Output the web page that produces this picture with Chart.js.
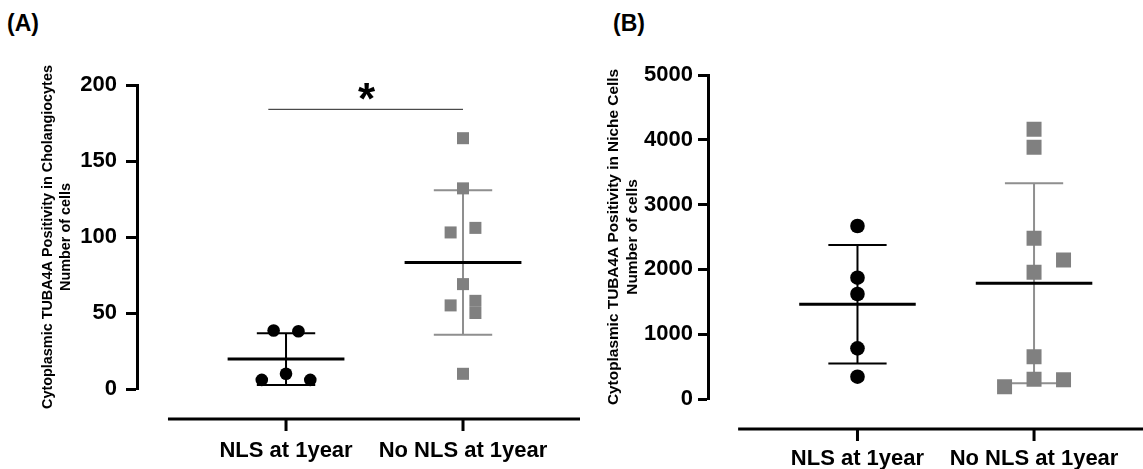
<!DOCTYPE html>
<html>
<head>
<meta charset="utf-8">
<script src="https://cdn.jsdelivr.net/npm/chart.js@4.4.1/dist/chart.umd.min.js"></script>
<style>
  body { margin: 0; background: #fff; }
  #wrap { position: relative; width: 1143px; height: 469px; overflow: hidden; }
  canvas { position: absolute; top: 0; }
  .panel { position: absolute; font: bold 23px 'Liberation Sans', Arial, sans-serif; color: #000; line-height: 1; }
</style>
</head>
<body>
<div id="wrap">
  <div class="panel" style="left:7px; top:12px;">(A)</div>
  <div class="panel" style="left:613px; top:12px;">(B)</div>
  <canvas id="chartA" width="590" height="469" style="left:0"></canvas>
  <canvas id="chartB" width="565" height="469" style="left:590px"></canvas>
</div>
<script>
var categories = ['NLS at 1year', 'No NLS at 1year'];

// panel A - cholangiocytes
var aNls = [38.5, 38, 10, 6, 6];
var aNoNls = [165, 132, 103, 106, 69, 55, 58, 50, 10];
var aMean = [19.7, 83.2];
var aSd = [17, 47.5];
var aTicks = [0, 50, 100, 150, 200];
var aTitle = ['Cytoplasmic TUBA4A Positivity in Cholangiocytes', 'Number of cells'];

// panel B - niche cells
var bNls = [2670, 1872, 1620, 782, 344];
var bNoNls = [4161, 3884, 2480, 2145, 1955, 653, 304, 298, 190];
var bMean = [1461, 1785];
var bSd = [915, 1543];
var bTicks = [0, 1000, 2000, 3000, 4000, 5000];
var bTitle = ['Cytoplasmic TUBA4A Positivity in Niche Cells', 'Number of cells'];

// horizontal scatter of points around the category (category units)
var aNlsDx = [-0.07, 0.07, 0, -0.137, 0.137];
var aNoNlsDx = [0, 0, -0.07, 0.07, 0, -0.07, 0.07, 0.07, 0];
var bNlsDx = [0, 0, 0, 0, 0];
var bNoNlsDx = [0, 0, 0, 0.167, 0, 0, 0, 0.167, -0.167];

var FONT = "'Liberation Sans', Arial, sans-serif";

function errorBar(cx, m, s, cap) {
    return [
        { x: cx - cap, y: m + s }, { x: cx + cap, y: m + s }, { x: cx, y: null },
        { x: cx, y: m + s }, { x: cx, y: m - s }, { x: cx, y: null },
        { x: cx - cap, y: m - s }, { x: cx + cap, y: m - s }
    ];
}

function buildSets(nls, nlsDx, noNls, noNlsDx, mean, sd, circleR, squareR) {
    return [
        {
            data: nls.map(function (v, i) { return { x: 1 + nlsDx[i], y: v }; }),
            pointStyle: 'circle', pointRadius: circleR, backgroundColor: '#000', borderWidth: 0
        },
        {
            data: noNls.map(function (v, i) { return { x: 2 + noNlsDx[i], y: v }; }),
            pointStyle: 'rect', pointRadius: squareR, backgroundColor: '#808080', borderWidth: 0
        },
        {
            data: [{ x: 0.67, y: mean[0] }, { x: 1.33, y: mean[0] }, { x: 1.5, y: null },
                   { x: 1.67, y: mean[1] }, { x: 2.33, y: mean[1] }],
            showLine: true, borderColor: '#000', borderWidth: 3, pointRadius: 0
        },
        {
            data: errorBar(1, mean[0], sd[0], 0.165),
            showLine: true, borderColor: '#000', borderWidth: 2, pointRadius: 0
        },
        {
            data: errorBar(2, mean[1], sd[1], 0.165),
            showLine: true, borderColor: '#8f8f8f', borderWidth: 2, pointRadius: 0
        }
    ];
}

// x axis drawn detached below the plot, like the original
var offsetAxis = {
    id: 'offsetAxis',
    afterDraw: function (chart, args, opts) {
        var ctx = chart.ctx, x = chart.scales.x, y = chart.scales.y;
        var ay = chart.chartArea.bottom + opts.gap;
        ctx.save();
        ctx.strokeStyle = '#000';
        ctx.lineWidth = 3;
        ctx.beginPath();
        ctx.moveTo(x.getPixelForValue(opts.start), ay);
        ctx.lineTo(chart.chartArea.right, ay);
        x.ticks.forEach(function (t) {
            var px = x.getPixelForValue(t.value);
            ctx.moveTo(px, ay);
            ctx.lineTo(px, ay + opts.tickLen);
        });
        ctx.stroke();
        if (opts.star) {
            ctx.lineWidth = 1;
            ctx.strokeStyle = '#222';
            ctx.beginPath();
            ctx.moveTo(x.getPixelForValue(opts.star.from), y.getPixelForValue(opts.star.y));
            ctx.lineTo(x.getPixelForValue(opts.star.to), y.getPixelForValue(opts.star.y));
            ctx.stroke();
            ctx.fillStyle = '#000';
            ctx.font = 'bold 44px ' + FONT;
            ctx.textAlign = 'center';
            ctx.textBaseline = 'alphabetic';
            ctx.fillText('*', x.getPixelForValue(opts.star.x), y.getPixelForValue(opts.star.textY));
        }
        ctx.restore();
    }
};

function makeChart(id, cfg) {
    return new Chart(document.getElementById(id), {
        type: 'scatter',
        data: { datasets: cfg.datasets },
        plugins: [offsetAxis],
        options: {
            responsive: false,
            animation: false,
            layout: { padding: { top: cfg.top, right: cfg.right, left: 0, bottom: 0 } },
            plugins: {
                legend: { display: false },
                tooltip: { enabled: false },
                offsetAxis: { gap: 30, start: cfg.axisStart, tickLen: 12, star: cfg.star }
            },
            scales: {
                x: {
                    type: 'linear', min: cfg.xMin, max: cfg.xMax,
                    afterBuildTicks: function (s) { s.ticks = [1, 2].map(function (v) { return { value: v }; }); },
                    afterFit: function (s) {
                        s.height = cfg.xHeight;
                        s.paddingLeft = 0;
                        s.paddingRight = 0;
                    },
                    ticks: {
                        callback: function (v) { return categories[Math.round(v) - 1]; },
                        color: '#000', font: { family: FONT, size: 22, weight: 'bold' },
                        padding: cfg.xPad, autoSkip: false, maxRotation: 0
                    },
                    grid: { display: false },
                    border: { display: false }
                },
                y: {
                    min: cfg.ticks[0], max: cfg.ticks[cfg.ticks.length - 1],
                    afterBuildTicks: function (s) { s.ticks = cfg.ticks.map(function (v) { return { value: v }; }); },
                    afterFit: function (s) { s.width = cfg.yWidth; },
                    ticks: {
                        callback: function (v) { return String(v); },
                        color: '#000', font: { family: FONT, size: 22, weight: 'bold' }, padding: cfg.yPad
                    },
                    grid: { drawOnChartArea: false, tickLength: cfg.tickLen, tickWidth: 3, tickColor: '#000' },
                    border: { color: '#000', width: 3 },
                    title: {
                        display: true, text: cfg.title, color: '#000',
                        font: { family: FONT, size: cfg.titleSize, weight: 'bold', lineHeight: 1.25 },
                        padding: { top: cfg.titlePad, bottom: 0 }
                    }
                }
            }
        }
    });
}

makeChart('chartA', {
    datasets: buildSets(aNls, aNlsDx, aNoNls, aNoNlsDx, aMean, aSd, 6.3, 8.5),
    ticks: aTicks, title: aTitle, titleSize: 14.4, titlePad: 39,
    top: 85, right: 10, xHeight: 80, yWidth: 137, yPad: 9, tickLen: 11, xPad: 41,
    xMin: 0.158, xMax: 2.661, axisStart: 0.333,
    star: { from: 0.9, to: 2.0, y: 184, x: 1.455, textY: 181 }
});

makeChart('chartB', {
    datasets: buildSets(bNls, bNlsDx, bNoNls, bNoNlsDx, bMean, bSd, 7.3, 10.6),
    ticks: bTicks, title: bTitle, titleSize: 15.4, titlePad: 14,
    top: 75, right: 0, xHeight: 70, yWidth: 118, yPad: 5, tickLen: 10, xPad: 39,
    xMin: 0.1534, xMax: 2.625, axisStart: 0.324,
    star: null
});
</script>
</body>
</html>
